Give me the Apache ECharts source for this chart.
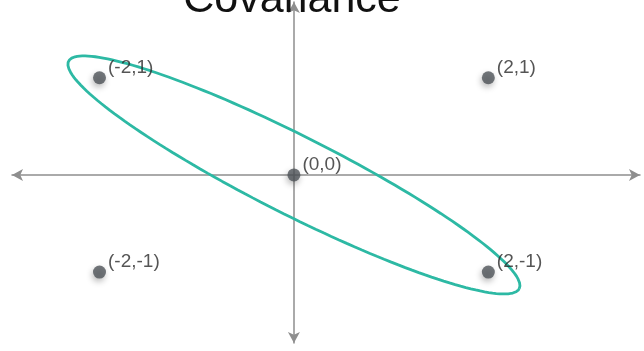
<!DOCTYPE html>
<html>
<head>
<meta charset="utf-8">
<script src="https://cdn.jsdelivr.net/npm/echarts@6/dist/echarts.min.js"></script>
<style>
  html, body { margin: 0; padding: 0; background: #ffffff; }
  #chart { width: 644px; height: 351px; }
</style>
</head>
<body>
<div id="chart"></div>
<script>
// Sample points and their labels
const pointX = [-2, 2, 0, -2, 2];
const pointY = [1, 1, 0, -1, -1];
const pointLabels = ['(-2,1)', '(2,1)', '(0,0)', '(-2,-1)', '(2,-1)'];

// Covariance ellipse: centre, semi-axes (data units) and tilt in degrees
const ellipseCenter = [0, 0];
const ellipseSemiAxes = [2.597, 0.404];
const ellipseTiltDeg = -26.8;

const titleText = 'Covariance';

function ellipsePath(center, axes, tiltDeg, steps) {
  const phi = tiltDeg * Math.PI / 180;
  const pts = [];
  for (let i = 0; i <= steps; i++) {
    const t = (i / steps) * Math.PI * 2;
    const u = axes[0] * Math.cos(t);
    const v = axes[1] * Math.sin(t);
    pts.push([
      center[0] + u * Math.cos(phi) - v * Math.sin(phi),
      center[1] + u * Math.sin(phi) + v * Math.cos(phi)
    ]);
  }
  return pts;
}

const chart = echarts.init(document.getElementById('chart'), null, { renderer: 'canvas' });

const axisLineStyle = {
  onZero: true,
  symbol: ['arrow', 'arrow'],
  symbolSize: [9, 11],
  lineStyle: { color: '#8e8e8e', width: 1.5 }
};

chart.setOption({
  backgroundColor: '#ffffff',
  animation: false,
  grid: { left: 12, right: 4, top: 2, bottom: 8 },
  xAxis: {
    type: 'value', min: -2.9, max: 3.56,
    axisLine: axisLineStyle,
    axisTick: { show: false }, axisLabel: { show: false }, splitLine: { show: false }
  },
  yAxis: {
    type: 'value', min: -1.73, max: 1.78,
    axisLine: axisLineStyle,
    axisTick: { show: false }, axisLabel: { show: false }, splitLine: { show: false }
  },
  graphic: [{
    type: 'text',
    z: 100,
    style: {
      x: 292, y: 0,
      text: titleText,
      fill: '#111111',
      font: '43px "Liberation Sans", Arial, sans-serif',
      textAlign: 'center',
      textVerticalAlign: 'middle'
    }
  }],
  series: [
    {
      type: 'line',
      data: ellipsePath(ellipseCenter, ellipseSemiAxes, ellipseTiltDeg, 180),
      showSymbol: false,
      smooth: false,
      silent: true,
      z: 2,
      lineStyle: { color: '#2db9a4', width: 2.8 }
    },
    {
      type: 'scatter',
      z: 3,
      symbolSize: 13,
      data: pointX.map((x, i) => ({ value: [x, pointY[i]], name: pointLabels[i] })),
      itemStyle: {
        color: '#4f5459',
        shadowColor: 'rgba(0,0,0,0.35)',
        shadowBlur: 6,
        shadowOffsetY: 3,
        shadowOffsetX: -1
      },
      label: {
        show: true,
        position: 'right',
        distance: 2,
        offset: [0, -10],
        formatter: p => p.name,
        color: '#2a2a2a',
        fontSize: 19,
        fontFamily: '"Liberation Sans", Arial, sans-serif'
      }
    }
  ]
});
</script>
</body>
</html>
